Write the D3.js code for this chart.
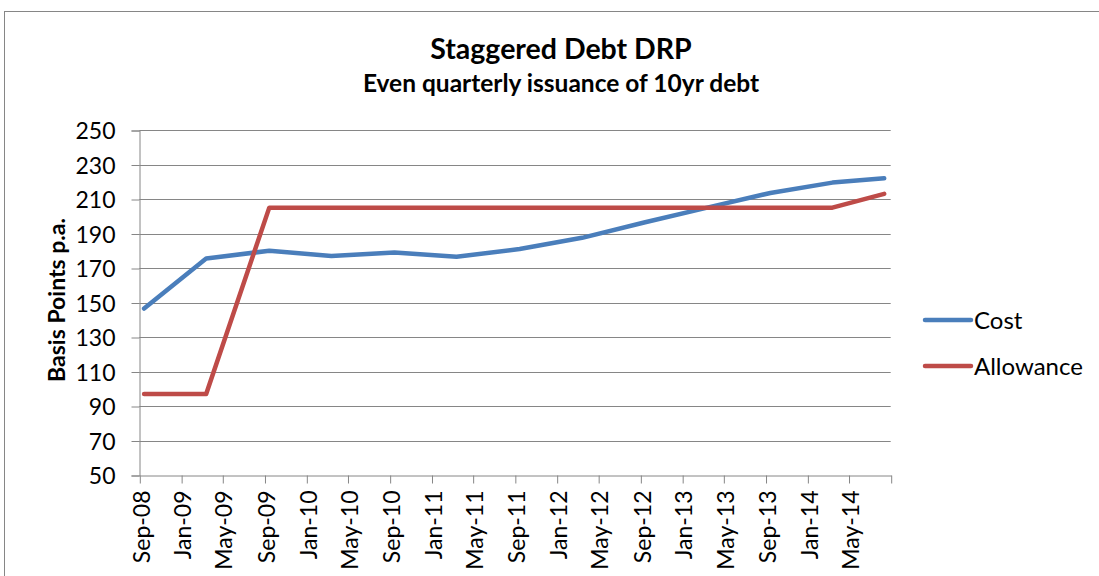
<!DOCTYPE html>
<html>
<head>
<meta charset="utf-8">
<script src="https://cdn.jsdelivr.net/npm/d3@7"></script>
<style>
  body { margin: 0; background: #fff; }
  text { font-family: Lato, "Open Sans", sans-serif; fill: #000; }
</style>
</head>
<body>
<div class="wrapper"></div>
<script>
// data (semi-annual points)
var dates = ["2008-09-15","2009-03-15","2009-09-15","2010-03-15","2010-09-15","2011-03-15",
             "2011-09-15","2012-03-15","2012-09-15","2013-03-15","2013-09-15","2014-03-15","2014-08-13"];
var cost      = [146.5, 175.5, 180, 177, 179, 176.5, 181, 187.5, 196.5, 205, 213.5, 219.5, 222];
var allowance = [97, 97, 205, 205, 205, 205, 205, 205, 205, 205, 205, 205, 213];
var seriesNames = ["Cost", "Allowance"];
var seriesColors = ["#4A7EBB", "#BE4B48"];
var yTicks = [50, 70, 90, 110, 130, 150, 170, 190, 210, 230, 250];
var xTickLabels = ["Sep-08","Jan-09","May-09","Sep-09","Jan-10","May-10","Sep-10","Jan-11","May-11",
                   "Sep-11","Jan-12","May-12","Sep-12","Jan-13","May-13","Sep-13","Jan-14","May-14"];

var w = 1099, h = 576;
var parseDay = d3.timeParse("%Y-%m-%d"),
    parseMon = d3.timeParse("%b-%y"),
    fmtMon = d3.timeFormat("%b-%y");

var svg = d3.select(".wrapper").append("svg")
    .attr("width", w)
    .attr("height", h);

// chart area border (runs off the right/bottom edge)
svg.append("rect")
    .attr("x", 4.5).attr("y", 11.5)
    .attr("width", 1200).attr("height", 700)
    .attr("fill", "none")
    .attr("stroke", "#868686");

var x = d3.scaleTime()
    .domain([parseMon("Sep-08"), parseMon("Sep-14")])
    .range([139.3, 890.7]);
var y = d3.scaleLinear()
    .domain([50, 250])
    .range([475, 130]);

// gridlines
svg.append("g").selectAll("line")
    .data(yTicks.slice(1))
  .enter().append("line")
    .attr("x1", x.range()[0]).attr("x2", x.range()[1])
    .attr("y1", function(d) { return Math.round(y(d)) + 0.5; })
    .attr("y2", function(d) { return Math.round(y(d)) + 0.5; })
    .attr("stroke", "#868686");

// y axis
var yAxis = svg.append("g")
    .attr("transform", "translate(" + (Math.round(x.range()[0]) + 0.5) + ",0.5)")
    .call(d3.axisLeft(y).tickValues(yTicks).tickSize(8).tickPadding(16));
yAxis.selectAll("line, path").attr("stroke", "#868686");
yAxis.selectAll("text")
    .style("font-size", "23px")
    .attr("dy", "0.36em");

// x axis
var xTickDates = xTickLabels.map(parseMon).concat([x.domain()[1]]);
var xAxis = svg.append("g")
    .attr("transform", "translate(0.5," + (Math.round(y(50)) + 0.5) + ")")
    .call(d3.axisBottom(x).tickValues(xTickDates).tickSize(8).tickSizeOuter(0)
      .tickFormat(function(d, i) { return i < xTickLabels.length ? fmtMon(d) : ""; }));
xAxis.selectAll("line, path").attr("stroke", "#868686");
xAxis.selectAll("text")
    .style("font-size", "23px")
    .attr("text-anchor", "end")
    .attr("transform", "rotate(-90)")
    .attr("x", -15)
    .attr("y", 0)
    .attr("dy", "0.4em");

// lines
var series = [cost, allowance];
var line = d3.line()
    .x(function(d, i) { return x(parseDay(dates[i])); })
    .y(function(d) { return y(d); });

svg.append("g").selectAll("path")
    .data(series)
  .enter().append("path")
    .attr("d", line)
    .attr("fill", "none")
    .attr("stroke", function(d, i) { return seriesColors[i]; })
    .attr("stroke-width", 4.5)
    .attr("stroke-linecap", "round")
    .attr("stroke-linejoin", "round");

// titles
svg.append("text")
    .attr("x", 561).attr("y", 59)
    .attr("text-anchor", "middle")
    .style("font-size", "28.5px").style("font-weight", "bold")
    .text("Staggered Debt DRP");
svg.append("text")
    .attr("x", 561).attr("y", 92)
    .attr("text-anchor", "middle")
    .style("font-size", "24.5px").style("font-weight", "bold")
    .text("Even quarterly issuance of 10yr debt");
svg.append("text")
    .attr("transform", "translate(65,300) rotate(-90)")
    .attr("text-anchor", "middle")
    .style("font-size", "23px").style("font-weight", "bold")
    .text("Basis Points p.a.");

// legend
var legend = svg.append("g").selectAll("g")
    .data(seriesNames)
  .enter().append("g")
    .attr("transform", function(d, i) { return "translate(925," + (320 + i * 46) + ")"; });
legend.append("line")
    .attr("x1", 0).attr("x2", 46)
    .attr("stroke", function(d, i) { return seriesColors[i]; })
    .attr("stroke-width", 4.5)
    .attr("stroke-linecap", "round");
legend.append("text")
    .attr("x", 49).attr("dy", "0.36em")
    .style("font-size", "24px")
    .text(function(d) { return d; });
</script>
</body>
</html>
